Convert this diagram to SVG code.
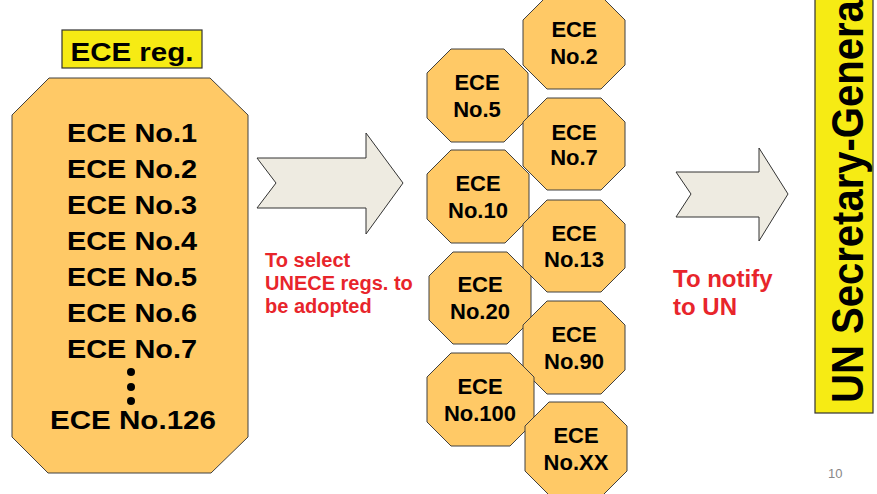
<svg xmlns="http://www.w3.org/2000/svg" width="877" height="494" viewBox="0 0 877 494">
<style>
.oct{fill:#FFC966;stroke:#404040;stroke-width:1}
.ylw{fill:#F6EB14;stroke:#333;stroke-width:1.2}
.arr{fill:#EEEBE1;stroke:#333;stroke-width:1}
text{font-family:"Liberation Sans",Arial,sans-serif;font-weight:bold}
.big{font-size:26px;fill:#000;text-anchor:middle}
.sm{font-size:22px;fill:#000;text-anchor:middle}
.red{fill:#E8252B}
</style>
<rect width="877" height="494" fill="#fff"/>
<g id="ece-reg-label">
<rect class="ylw" x="62" y="30" width="140" height="38"/>
<text class="big" x="132" y="61" font-size="27" textLength="123" lengthAdjust="spacingAndGlyphs">ECE reg.</text>
</g>
<g id="ece-list">
<polygon class="oct" points="49,78 210,78 248,115 248,437 211,473 48,473 12,437 12,115"/>
<text class="big" x="132" y="142" textLength="130" lengthAdjust="spacingAndGlyphs">ECE No.1</text>
<text class="big" x="132" y="178" textLength="130" lengthAdjust="spacingAndGlyphs">ECE No.2</text>
<text class="big" x="132" y="214" textLength="130" lengthAdjust="spacingAndGlyphs">ECE No.3</text>
<text class="big" x="132" y="250" textLength="130" lengthAdjust="spacingAndGlyphs">ECE No.4</text>
<text class="big" x="132" y="286" textLength="130" lengthAdjust="spacingAndGlyphs">ECE No.5</text>
<text class="big" x="132" y="322" textLength="130" lengthAdjust="spacingAndGlyphs">ECE No.6</text>
<text class="big" x="132" y="358" textLength="130" lengthAdjust="spacingAndGlyphs">ECE No.7</text>
<circle cx="131" cy="372" r="4"/>
<circle cx="131" cy="387" r="4"/>
<circle cx="131" cy="401" r="4"/>
<text class="big" x="133" y="429" textLength="166" lengthAdjust="spacingAndGlyphs">ECE No.126</text>
</g>
<g id="connectors">
<path class="arr" d="M257,158 L366,158 L366,133 L403,183 L366,234 L366,208 L257,208 L276,183 Z"/>
<path class="arr" d="M676,172 L759,172 L759,148 L788,194 L759,241 L759,217 L676,217 L691,194 Z"/>
</g>
<g id="label-select">
<text class="red" font-size="20" x="265" y="267">To select</text>
<text class="red" font-size="20" x="265" y="290">UNECE regs. to</text>
<text class="red" font-size="20" x="265" y="313">be adopted</text>
</g>
<g id="label-notify">
<text class="red" font-size="24" x="673" y="287">To notify</text>
<text class="red" font-size="24" x="673" y="315">to UN</text>
</g>
<g id="ece2"><polygon class="oct" points="547,-4 601,-4 625,20 625,65 601,89 547,89 523,65 523,20"/><text class="sm" x="574" y="37">ECE</text><text class="sm" x="574" y="64">No.2</text></g>
<g id="ece5"><polygon class="oct" points="451,49 504,49 528,73 528,118 504,142 451,142 427,118 427,73"/><text class="sm" x="477" y="90">ECE</text><text class="sm" x="477" y="117">No.5</text></g>
<g id="ece7"><polygon class="oct" points="547,98 601,98 625,122 625,166 601,190 547,190 523,166 523,122"/><text class="sm" x="574" y="140">ECE</text><text class="sm" x="574" y="165">No.7</text></g>
<g id="ece10"><polygon class="oct" points="451,150 505,150 529,174 529,219 505,243 451,243 427,219 427,174"/><text class="sm" x="478" y="191">ECE</text><text class="sm" x="478" y="218">No.10</text></g>
<g id="ece13"><polygon class="oct" points="547,200 601,200 625,224 625,268 601,292 547,292 523,268 523,224"/><text class="sm" x="574" y="241">ECE</text><text class="sm" x="574" y="267">No.13</text></g>
<g id="ece20"><polygon class="oct" points="453,252 507,252 531,276 531,320 507,344 453,344 429,320 429,276"/><text class="sm" x="480" y="292">ECE</text><text class="sm" x="480" y="319">No.20</text></g>
<g id="ece90"><polygon class="oct" points="547,301 601,301 625,325 625,370 601,394 547,394 523,370 523,325"/><text class="sm" x="574" y="342">ECE</text><text class="sm" x="574" y="369">No.90</text></g>
<g id="ece100"><polygon class="oct" points="451,353 510,353 534,377 534,422 510,446 451,446 427,422 427,377"/><text class="sm" x="480" y="394">ECE</text><text class="sm" x="480" y="421">No.100</text></g>
<g id="eceXX"><polygon class="oct" points="549,402 603,402 627,426 627,471 603,495 549,495 525,471 525,426"/><text class="sm" x="576" y="443">ECE</text><text class="sm" x="576" y="470">No.XX</text></g>
<g id="un-sg">
<rect class="ylw" x="815" y="-2" width="58" height="415"/>
<text transform="translate(863,403) rotate(-90)" font-size="45" fill="#000" textLength="414" lengthAdjust="spacingAndGlyphs">UN Secretary-General</text>
</g>
<text x="828" y="478" font-size="13" fill="#888" style="font-weight:normal">10</text>
</svg>
